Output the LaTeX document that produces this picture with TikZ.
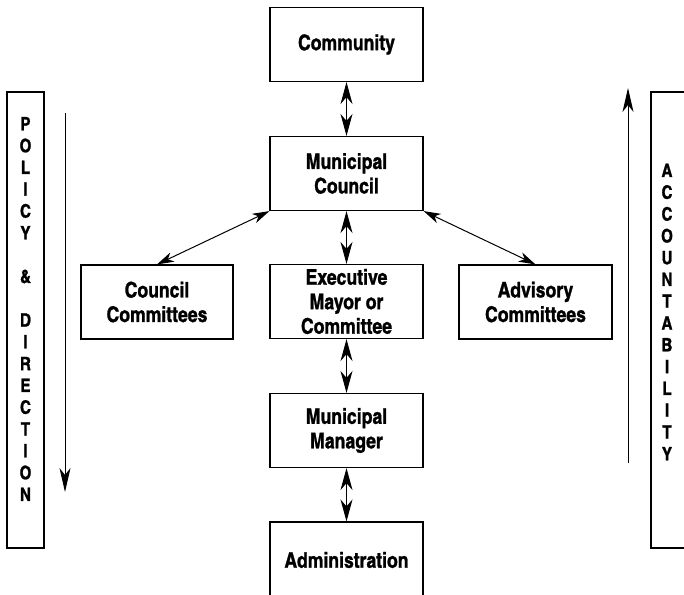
\documentclass[tikz,border=0pt]{standalone}
\usepackage{fontspec}
\setmainfont{texgyreheroscn}[Extension=.otf, UprightFont=*-regular, BoldFont=*-bold, ItalicFont=*-italic, BoldItalicFont=*-bolditalic, BoldFeatures={FakeBold=1.2}]
\usetikzlibrary{arrows.meta}

\tikzset{
  unit/.style={draw, line width=1.2pt, minimum width=153pt, minimum height=74pt,
    align=center, font=\bfseries\fontsize{21.5}{24.5}\selectfont},
  frame/.style={draw, line width=1.2pt, minimum height=456pt},
  vert/.style={align=center, inner sep=0pt, font=\bfseries\fontsize{18.5}{21.8}\selectfont},
  link/.style={{Stealth[length=22pt,width=12pt,inset=7pt]}-{Stealth[length=22pt,width=12pt,inset=7pt]}, line width=1pt},
  slant/.style={{Stealth[length=17pt,width=10pt,inset=5pt]}-{Stealth[length=17pt,width=10pt,inset=5pt]}, line width=1pt},
  flow/.style={-{Stealth[length=24pt,width=11pt,inset=7pt]}, line width=1pt}
}

\begin{document}
\begin{tikzpicture}[x=1pt, y=-1pt]
  \useasboundingbox (0,0) rectangle (684,594);
  % boxes down the middle
  \node[unit] (comm) at (346.5,44.5) {Community};
  \node[unit] (council) at (346.5,173.5) {Municipal\\Council};
  \node[unit] (exec) at (346.5,301.5) {Executive\\Mayor or\\Committee};
  \node[unit] (mgr) at (346.5,430.5) {Municipal\\Manager};
  \node[unit, minimum height=76pt] (admin) at (346.5,560) {Administration};
  % boxes to the sides
  \node[unit, minimum width=152pt] (cc) at (157,302) {Council\\Committees};
  \node[unit] (adv) at (535.5,302) {Advisory\\Committees};
  % the two tall frames
  \node[frame, minimum width=37pt] (policy) at (25.5,320) {};
  \node[vert] (policytext) at (25.5,309) {P\\O\\L\\I\\C\\Y\\~\\\&\\~\\D\\I\\R\\E\\C\\T\\I\\O\\N};
  \node[frame, minimum width=50pt] (acc) at (676,320) {};
  \node[vert] (acctext) at (667,312) {A\\C\\C\\O\\U\\N\\T\\A\\B\\I\\L\\I\\T\\Y};
  \coordinate (ptop) at (65,113);
  \coordinate (pbot) at (65,492);
  \coordinate (abot) at (628,463);
  \coordinate (atop) at (628,88);
  % connectors
  \draw[link] (comm) -- (council);
  \draw[link] (council) -- (exec);
  \draw[link] (exec) -- (mgr);
  \draw[link] (mgr) -- (admin);
  \draw[slant] (council.south west) -- (cc.north);
  \draw[slant] (council.south east) -- (adv.north);
  \draw[flow] (ptop) -- (pbot);
  \draw[flow] (abot) -- (atop);
\end{tikzpicture}
\end{document}
